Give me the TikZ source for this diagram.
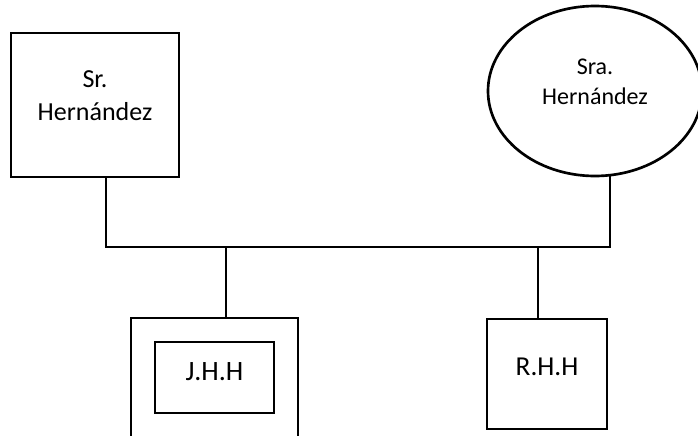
\documentclass[tikz,border=0pt]{standalone}
\usepackage{fontspec}
\setmainfont{Carlito}
\usetikzlibrary{
    positioning,
    shapes.geometric
}
\tikzset{
  person/.style  = {draw, line width=2pt, inner sep=0pt, outer sep=0pt,
                    align=center},
  male/.style    = {person, rectangle},
  female/.style  = {person, ellipse},
  link/.style    = {line width=2pt}
}

\begin{document}
\begin{tikzpicture}[x=0.75pt, y=-0.75pt]

\clip (0,0) rectangle (698,435);

%% --- Parents ---
\node[male, minimum width=126pt, minimum height=108pt,
      text height=22.5pt, text depth=0pt,
      font=\fontsize{19.5}{24.75}\selectfont] (sr) at (95,105) {%
  Sr.\\Hernández};

\node[female, minimum width=160.5pt, minimum height=127.5pt,
      text height=20.6pt, text depth=0pt,
      font=\fontsize{18}{22.5}\selectfont] (sra) at (595,91) {%
  Sra.\\Hernández};

%% --- Children ---
\node[male, minimum width=125.25pt, minimum height=121.5pt] (jhh) at (214.5,399) {};

\node[male, minimum width=89.25pt, minimum height=53.25pt,
      text height=5.2pt, text depth=0pt,
      font=\fontsize{21}{25}\selectfont, below=18pt of jhh.north] (jhhin) {J.H.H};

\node[male, minimum width=90pt, minimum height=82.5pt,
      text height=2pt, text depth=0pt,
      font=\fontsize{20.5}{25}\selectfont] (rhh) at (547,374) {R.H.H};

%% --- Couple line ---
\coordinate (hl) at (106,247);
\coordinate (hr) at (610,247);
\draw[link] (sr.south -| hl) -- (hl) -- (hr) -- (hr |- sra.south);

%% --- Descent lines ---
\coordinate (dj) at (226,247);
\coordinate (dr) at (538,247);
\draw[link] (dj) -- (dj |- jhh.north);
\draw[link] (dr) -- (dr |- rhh.north);

\end{tikzpicture}
\end{document}
